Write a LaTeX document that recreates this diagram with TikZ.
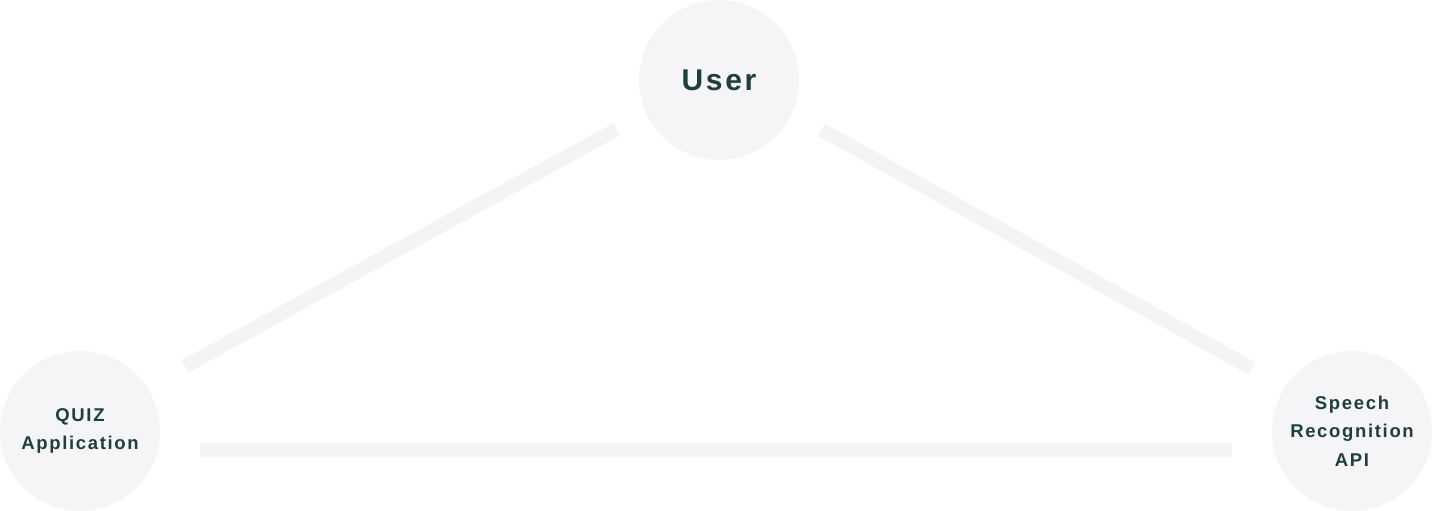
\documentclass[tikz,border=0pt]{standalone}
\usepackage{fontspec}
\setmainfont{Liberation Sans}[LetterSpace=9]
\usepackage{xcolor}
\definecolor{bubblefill}{HTML}{F5F5F7}
\definecolor{linkgray}{HTML}{F4F4F6}
\definecolor{labelteal}{HTML}{1C403E}

\tikzset{
    bubble/.style={circle, fill=bubblefill, minimum size=160pt, inner sep=0pt,
        text=labelteal, align=center, font=\bfseries\fontsize{18.5}{28.5}\selectfont},
    link/.style={draw=linkgray, line width=14pt}
}

\begin{document}
\begin{tikzpicture}[x=1pt, y=-1pt]
        \useasboundingbox (0,0) rectangle (1432,511);
        \node[bubble, font=\bfseries\fontsize{30}{36}\selectfont] (user) at (719,80) {User};
        \node[bubble] (quiz) at (80,431) {QUIZ\\Application};
        \node[bubble] (speech) at (1352,431) {Speech\\Recognition\\API};
        % connectors
        \draw[link, shorten <=120pt, shorten >=117pt] ([yshift=7pt]quiz.center) -- ([yshift=7pt]user.center);
        \draw[link, shorten <=117pt, shorten >=115pt] ([yshift=7pt]user.center) -- ([yshift=7pt]speech.center);
        \draw[link, shorten <=120pt, shorten >=120pt] ([yshift=-19pt]quiz.center) -- ([yshift=-19pt]speech.center);
    \end{tikzpicture}
\end{document}
